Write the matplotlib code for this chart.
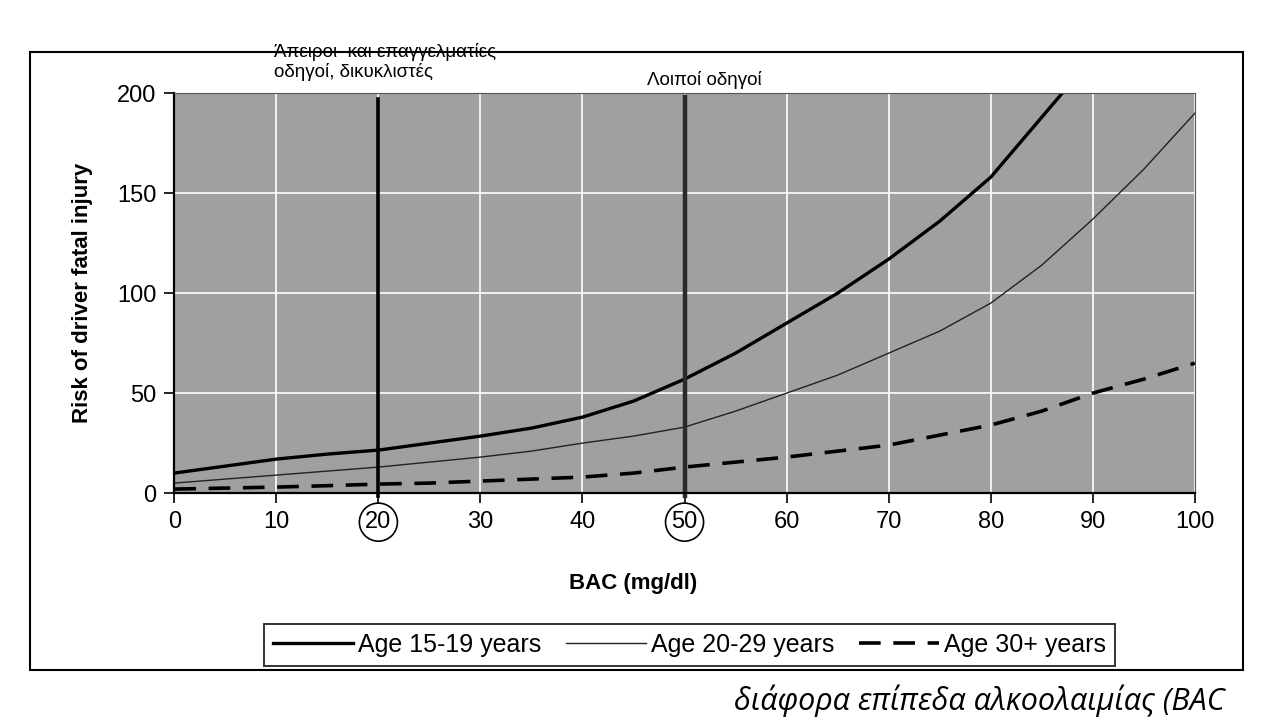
import matplotlib.pyplot as plt
import matplotlib.patches as mpatches

plt.rcParams['font.family'] = ['Liberation Sans', 'DejaVu Sans']

# BAC values (mg/dl)
bac = [0, 5, 10, 15, 20, 25, 30, 35, 40, 45, 50, 55, 60, 65, 70, 75, 80, 85, 90, 95, 100]
bac_15_19 = [0, 5, 10, 15, 20, 25, 30, 35, 40, 45, 50, 55, 60, 65, 70, 75, 80, 85, 87]

risk_15_19 = [10, 13.5, 17, 19.5, 21.5, 25, 28.5, 32.5, 38, 46, 57, 70, 85, 100, 117, 136, 158, 188, 200]
risk_20_29 = [5, 7, 9, 11, 13, 15.5, 18, 21, 25, 28.5, 33, 41, 50, 59, 70, 81, 95, 114, 137, 162, 190]
risk_30p = [2, 2.5, 3, 3.7, 4.5, 5, 6, 7, 8, 10, 13, 15.5, 18, 21, 24, 29, 34, 41, 50, 57, 65]

labels = ['Age 15-19 years', 'Age 20-29 years', 'Age 30+ years']
limits = [20, 50]
limit_text = ['Άπειροι  και επαγγελματίες\nοδηγοί, δικυκλιστές', 'Λοιποί οδηγοί']
xticks = list(range(0, 101, 10))
yticks = [0, 50, 100, 150, 200]

fig = plt.figure(figsize=(12.63, 7.23), dpi=100)

# outer frame of the chart
fig.patches.append(mpatches.Rectangle((0.024, 0.073), 0.96, 0.855, transform=fig.transFigure,
                                      fill=False, ec='black', lw=1.5))

ax = fig.add_axes([0.138, 0.318, 0.808, 0.553])
ax.set_facecolor('#a0a0a0')
ax.set_xlim(0, 100)
ax.set_ylim(0, 200)
ax.set_xticks(xticks)
ax.set_yticks(yticks)
ax.grid(True, color='white', lw=1.2)
ax.set_axisbelow(True)
ax.tick_params(direction='out', length=7, width=1.2, labelsize=17, pad=6, colors='black')
for s in ['left', 'bottom']:
    ax.spines[s].set_linewidth(1.6)
for s in ['top', 'right']:
    ax.spines[s].set_linewidth(0.8)
    ax.spines[s].set_color('#555555')

ax.plot(bac_15_19, risk_15_19, color='black', lw=2.4, label=labels[0])
ax.plot(bac, risk_20_29, color='#222222', lw=1.0, label=labels[1])
ax.plot(bac, risk_30p, color='black', lw=2.6, dashes=(6, 3.5), label=labels[2])

ax.plot([limits[0], limits[0]], [-1.5, 197], color='black', lw=2.6, clip_on=False)
ax.plot([limits[1], limits[1]], [-1.5, 198], color='#2a2a2a', lw=3.2, clip_on=False)

ax.text(9.8, 206, limit_text[0], fontsize=13.5, ha='left', va='bottom', linespacing=1.15, clip_on=False)
ax.text(46.3, 202, limit_text[1], fontsize=13.5, ha='left', va='bottom', clip_on=False)

ax.set_xlabel('BAC (mg/dl)', fontsize=16, fontweight='bold')
ax.xaxis.set_label_coords(0.45, -0.2)
ax.set_ylabel('Risk of driver fatal injury', fontsize=16, fontweight='bold')
ax.yaxis.set_label_coords(-0.08, 0.5)

# circle the two limit values on the x axis
fig.canvas.draw()
for lab in ax.get_xticklabels():
    if lab.get_text() in ('20', '50'):
        lab.set_bbox(dict(boxstyle='circle,pad=0.25', fc='none', ec='black', lw=1.2))

leg = ax.legend(loc='center', bbox_to_anchor=(0.546, 0.108), bbox_transform=fig.transFigure,
                ncol=3, fontsize=18, frameon=True, fancybox=False, handlelength=3.2,
                handletextpad=0.2, columnspacing=1.0, borderpad=0.35)
leg.get_frame().set_edgecolor('black')
leg.get_frame().set_linewidth(1.4)

fig.text(0.97, 0.008, 'διάφορα επίπεδα αλκοολαιμίας (BAC', fontsize=22, style='italic',
         family=['Open Sans', 'DejaVu Sans'], ha='right', va='bottom')

fig.savefig('out.png', dpi=100)
